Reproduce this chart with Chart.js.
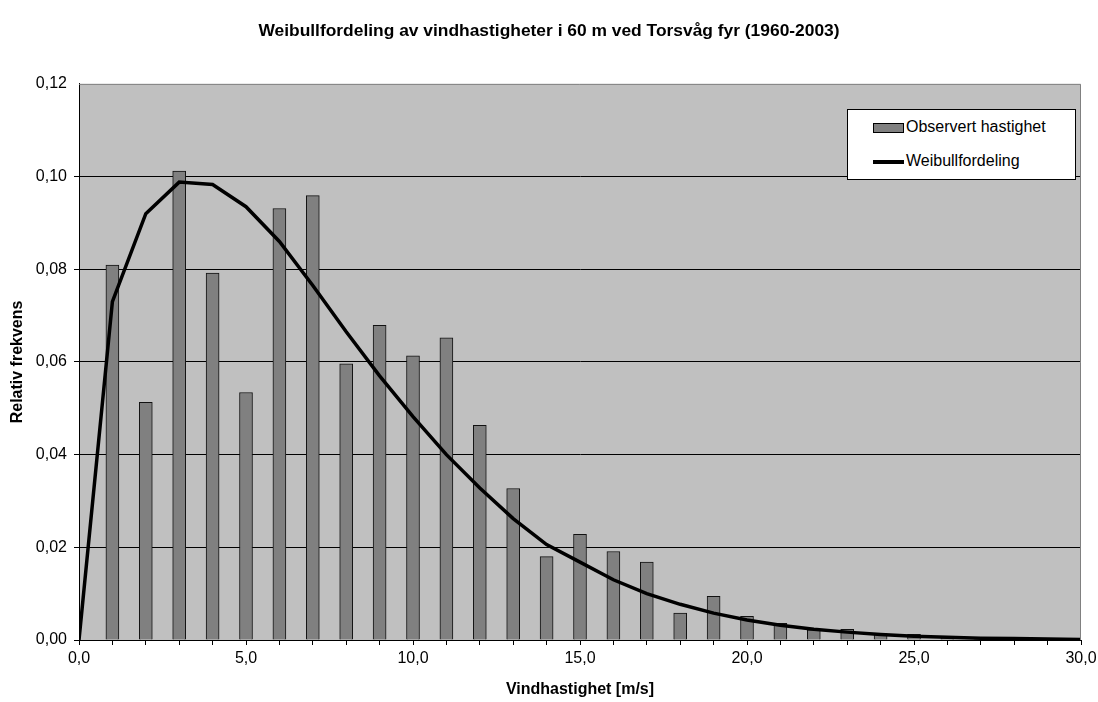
<!DOCTYPE html>
<html>
<head>
<meta charset="utf-8">
<script src="https://cdn.jsdelivr.net/npm/chart.js@4/dist/chart.umd.min.js"></script>
<style>
  html, body { margin: 0; padding: 0; background: #fff; }
  #wrap { position: relative; width: 1098px; height: 702px; }
  #legend {
    position: absolute; left: 847px; top: 109px; width: 227px; height: 69px;
    background: #fff; border: 1px solid #000;
    font: 16px Arial, "Liberation Sans", sans-serif; color: #000;
  }
  .item { position: absolute; left: 25px; height: 20px; line-height: 20px; white-space: nowrap; }
  .swatch { display: inline-block; vertical-align: middle; width: 31px; margin-right: 2px; }
  .sw-bar { height: 8px; background: #808080; border: 1px solid #000; width: 29px; }
  .sw-line { height: 4px; background: #000; }
</style>
</head>
<body>
<div id="wrap">
  <canvas id="c" width="1098" height="702"></canvas>
  <div id="legend">
    <div class="item" style="top:7px"><span class="swatch sw-bar"></span>Observert hastighet</div>
    <div class="item" style="top:41px"><span class="swatch sw-line"></span>Weibullfordeling</div>
  </div>
</div>
<script>
// ── data ─────────────────────────────────────────────
const windSpeeds = [1, 2, 3, 4, 5, 6, 7, 8, 9, 10, 11, 12, 13, 14, 15,
                    16, 17, 18, 19, 20, 21, 22, 23, 24, 25, 26, 27, 28, 29, 30];
const observed   = [0.0809, 0.0513, 0.1012, 0.0792, 0.0534, 0.0931, 0.0959, 0.0596, 0.0679, 0.0613,
                    0.0652, 0.0463, 0.0327, 0.0180, 0.0228, 0.0191, 0.0168, 0.0058, 0.0094, 0.0051,
                    0.0036, 0.0022, 0.0023, 0.0014, 0.0012, 0.0005, 0.0002, 0.0001, 0.0001, 0.0000];

const weibullX   = [0, 1, 2, 3, 4, 5, 6, 7, 8, 9, 10, 11, 12, 13, 14, 15,
                    16, 17, 18, 19, 20, 21, 22, 23, 24, 25, 26, 27, 28, 29, 30];
const weibullY   = [0.0000, 0.0730, 0.0920, 0.0988, 0.0983, 0.0935, 0.0860, 0.0765, 0.0665, 0.0570,
                    0.0482, 0.0400, 0.0328, 0.0262, 0.0206, 0.0168, 0.0130, 0.0100, 0.0077, 0.0058,
                    0.0043, 0.0032, 0.0023, 0.0017, 0.0012, 0.0008, 0.0006, 0.0004, 0.0003, 0.0002, 0.0001];

const TITLE   = 'Weibullfordeling av vindhastigheter i 60 m ved Torsvåg fyr (1960-2003)';
const X_TITLE = 'Vindhastighet [m/s]';
const Y_TITLE = 'Relativ frekvens';

// ── style ────────────────────────────────────────────
const FONT = 'Arial, "Liberation Sans", sans-serif';
const PLOT_BG = '#c0c0c0';
const PLOT_EDGE = '#808080';

const plotArea = {
  id: 'plotArea',
  beforeDraw(chart) {
    const a = chart.chartArea, ctx = chart.ctx;
    ctx.save();
    ctx.fillStyle = PLOT_BG;
    ctx.fillRect(a.left, a.top, a.right - a.left, a.bottom - a.top);
    ctx.restore();
  },
  afterDraw(chart) {
    const a = chart.chartArea, ctx = chart.ctx;
    ctx.save();
    ctx.strokeStyle = PLOT_EDGE;
    ctx.lineWidth = 1;
    ctx.beginPath();
    ctx.moveTo(a.left, a.top + 0.5);
    ctx.lineTo(a.right - 0.5, a.top + 0.5);
    ctx.lineTo(a.right - 0.5, a.bottom);
    ctx.stroke();
    ctx.restore();
  }
};

const fmt = (v, d) => v.toFixed(d).replace('.', ',');

new Chart(document.getElementById('c'), {
  type: 'bar',
  data: {
    datasets: [
      {
        type: 'bar',
        label: 'Observert hastighet',
        data: windSpeeds.map((x, i) => ({ x: x, y: observed[i] })),
        backgroundColor: '#808080',
        borderColor: '#111',
        borderWidth: 1,
        barThickness: 13,
        order: 2,
      },
      {
        type: 'line',
        label: 'Weibullfordeling',
        data: weibullX.map((x, i) => ({ x: x, y: weibullY[i] })),
        borderColor: '#000',
        borderWidth: 3.5,
        pointRadius: 0,
        tension: 0,
        fill: false,
        order: 1,
      },
    ],
  },
  options: {
    responsive: false,
    animation: false,
    layout: { padding: { left: 0, right: 0, top: 0, bottom: 0 } },
    plugins: {
      legend: { display: false },
      tooltip: { enabled: false },
      title: {
        display: true, text: TITLE, color: '#000',
        font: { family: FONT, size: 17.4, weight: 'bold' },
        padding: { top: 21, bottom: 42 },
      },
    },
    scales: {
      x: {
        type: 'linear', min: 0, max: 30, offset: false,
        afterFit(s) { s.height = 62; s.paddingRight = 17; },
        border: { color: '#000', width: 1 },
        grid: { offset: false, drawOnChartArea: false, drawTicks: true, tickLength: 5, color: '#000' },
        ticks: {
          stepSize: 1, autoSkip: false, maxRotation: 0, color: '#000', padding: 4,
          font: { family: FONT, size: 16 },
          callback: v => (v % 5 === 0 ? fmt(v, 1) : ''),
        },
        title: {
          display: true, text: X_TITLE, color: '#000',
          font: { family: FONT, size: 16, weight: 'bold' },
          padding: { top: 0, bottom: 3 },
        },
      },
      y: {
        min: 0, max: 0.12,
        afterFit(s) { s.width = 79; },
        border: { color: '#000', width: 1 },
        grid: {
          drawTicks: true, tickLength: 5,
          color: ctx => (ctx.tick && ctx.tick.value >= 0.12 ? 'rgba(0,0,0,0)' : '#000'),
        },
        ticks: {
          stepSize: 0.02, color: '#000', padding: 7,
          font: { family: FONT, size: 16 },
          callback: v => fmt(v, 2),
        },
        title: {
          display: true, text: Y_TITLE, color: '#000',
          font: { family: FONT, size: 16, weight: 'bold' },
          padding: { top: 8, bottom: 0 },
        },
      },
    },
  },
  plugins: [plotArea],
});
</script>
</body>
</html>
